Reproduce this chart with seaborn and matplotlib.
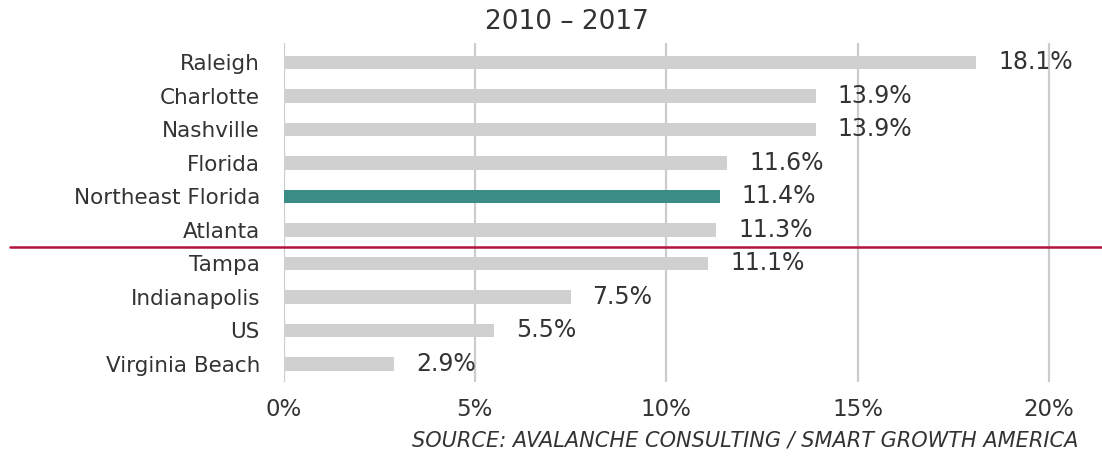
import matplotlib
matplotlib.use("Agg")
import matplotlib.pyplot as plt
import seaborn as sns
import pandas as pd
from matplotlib.lines import Line2D

categories = ["Raleigh", "Charlotte", "Nashville", "Florida", "Northeast Florida",
              "Atlanta", "Tampa", "Indianapolis", "US", "Virginia Beach"]
values = [18.1, 13.9, 13.9, 11.6, 11.4, 11.3, 11.1, 7.5, 5.5, 2.9]
highlight = "Northeast Florida"
tick_values = [0, 5, 10, 15, 20]
tick_labels = ["0%", "5%", "10%", "15%", "20%"]
title = "2010 \u2013 2017"
source = "SOURCE: AVALANCHE CONSULTING / SMART GROWTH AMERICA"

GREY = "#d0d0d0"
TEAL = "#3b8b87"
TEXT = "#333333"
GRID = "#cccccc"
RED = "#b5123c"

sns.set_theme(style="white")
plt.rcParams["font.family"] = ["DejaVu Sans"]

df = pd.DataFrame({"name": categories, "value": values})
palette = {c: (TEAL if c == highlight else GREY) for c in categories}

W, H = 1102, 457
fig = plt.figure(figsize=(W / 100, H / 100), dpi=100)
x0, x20 = 283.5, 1049.0
px_per = (x20 - x0) / 20.0
xmax = (W - x0) / px_per
ax_top, ax_bot = 43.0, 382.0
ax = fig.add_axes([x0 / W, 1 - ax_bot / H, (W - x0) / W, (ax_bot - ax_top) / H])

sns.barplot(data=df, y="name", x="value", hue="name", palette=palette,
            order=categories, legend=False, width=0.41, ax=ax, zorder=3,
            edgecolor="none", saturation=1)

ax.set_xlim(0, xmax)
ax.set_ylim(9.54, -0.58)
for t in tick_values:
    ax.axvline(t, color=GRID, lw=1.6, zorder=1)
for s in ax.spines.values():
    s.set_visible(False)
ax.set_xlabel("")
ax.set_ylabel("")
ax.set_xticks([])
ax.tick_params(axis="y", length=0, pad=17, labelsize=15.5, labelcolor=TEXT)

for i, v in enumerate(values):
    ax.text(v + 22 / px_per, i, f"{v:.1f}%", va="center", ha="left",
            fontsize=17, color=TEXT, zorder=4)

for t, lab in zip(tick_values, tick_labels):
    ax.text(x0 / W + t * px_per / W, 1 - 410 / H, lab, transform=fig.transFigure,
            ha="center", va="center", fontsize=16.5, color=TEXT)

fig.text(567 / W, 1 - 22 / H, title, ha="center", va="center", fontsize=19, color=TEXT)
fig.text(1078 / W, 1 - 440 / H, source, ha="right", va="center", fontsize=15,
         style="italic", color=TEXT)

fig.add_artist(Line2D([10 / W, 1.0], [1 - 247 / H, 1 - 247 / H], color=RED, lw=1.8,
                      transform=fig.transFigure))

fig.savefig("out.png", dpi=100, facecolor="white")
